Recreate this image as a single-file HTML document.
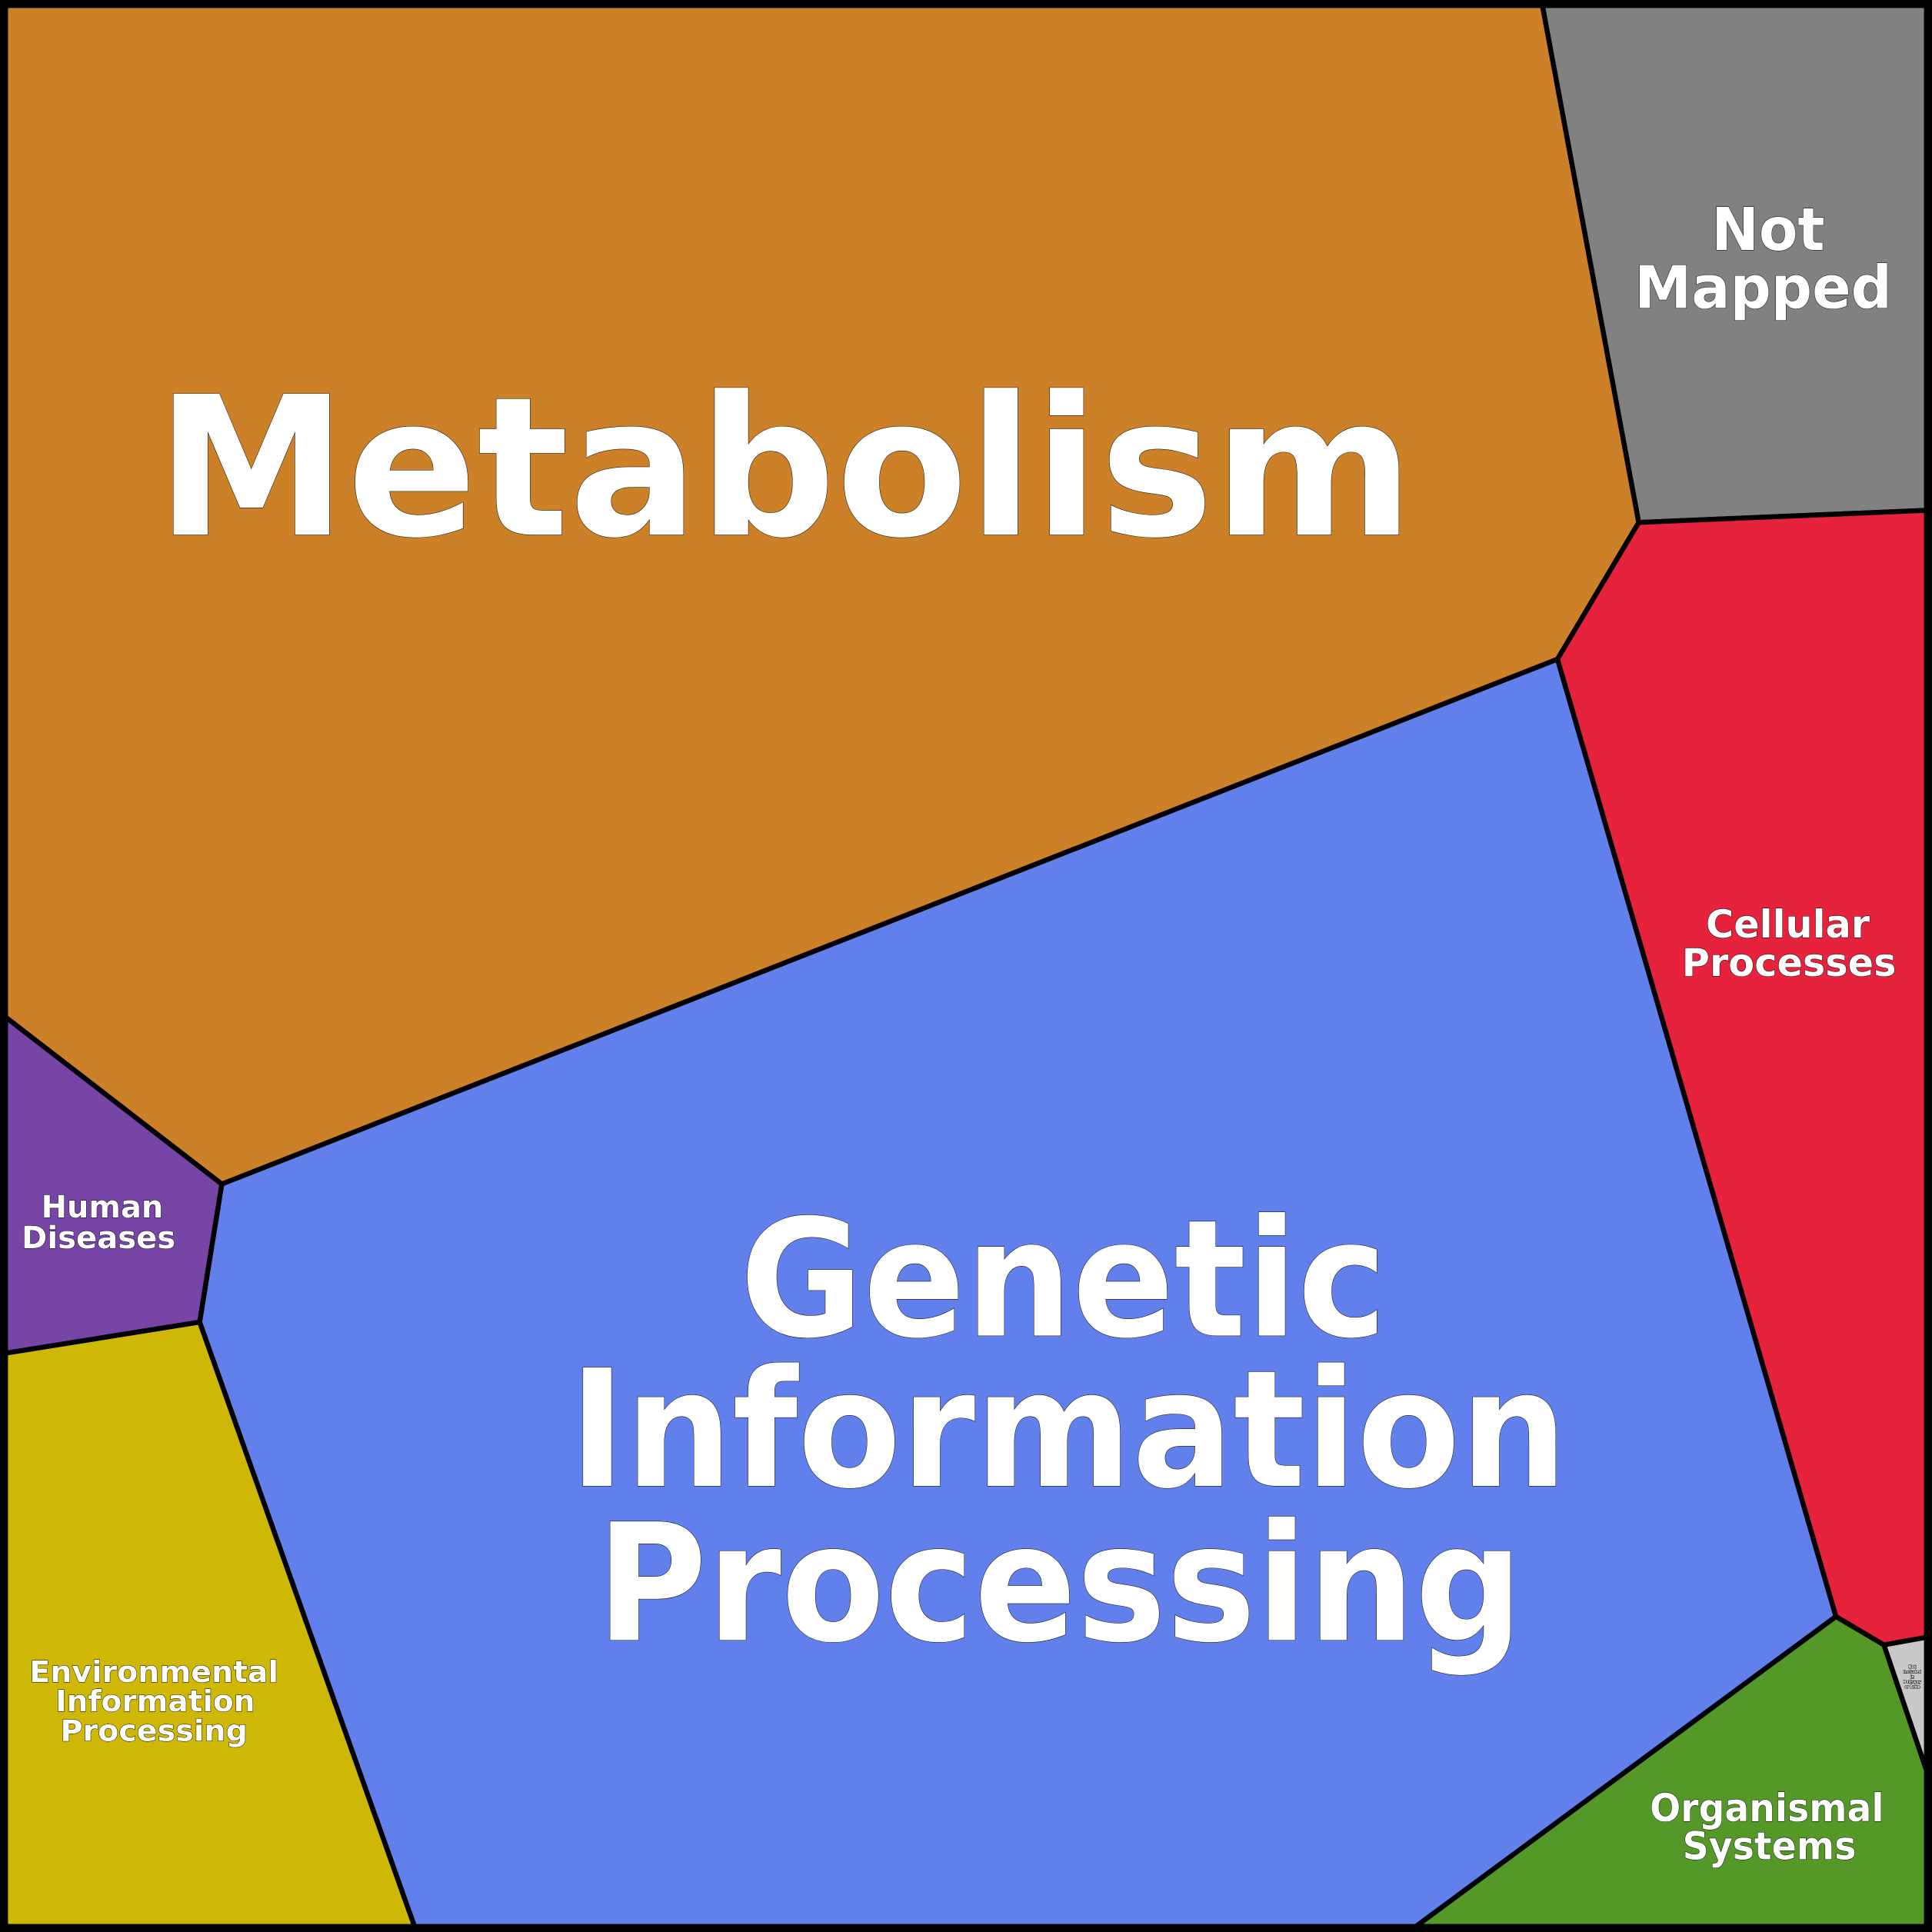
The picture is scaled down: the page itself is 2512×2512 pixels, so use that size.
<!DOCTYPE html>
<html><head><meta charset="utf-8"><style>html,body{margin:0;padding:0;background:#fff}svg{display:block}text{font-family:"DejaVu Sans","Liberation Sans",sans-serif;font-weight:bold;fill:#fff;text-anchor:middle;stroke:#000;stroke-width:0.6;paint-order:stroke}</style></head>
<body>
<svg width="2512" height="2512" viewBox="0 0 1568 1568" xmlns="http://www.w3.org/2000/svg">
<g stroke="#000" stroke-width="4" stroke-linejoin="round">
<polygon points="0,0 1251,0 1330,424 1264,535 180,961 0,822" fill="#cc8128"/>
<polygon points="1251,0 1568,0 1568,414 1330,424" fill="#808180"/>
<polygon points="1330,424 1568,414 1568,1328 1529,1335 1490,1312 1264,535" fill="#e6223d"/>
<polygon points="180,961 1264,535 1490,1312 1143,1568 338,1568 162,1073" fill="#6280eb"/>
<polygon points="0,822 180,961 162,1073 0,1099" fill="#7645a6"/>
<polygon points="0,1099 162,1073 338,1568 0,1568" fill="#cfb805"/>
<polygon points="1143,1568 1490,1312 1529,1335 1568,1450 1568,1568" fill="#549928"/>
<polygon points="1529,1335 1568,1328 1568,1450" fill="#c8c8c8"/>
</g>
<rect x="3" y="3" width="1562" height="1562" fill="none" stroke="#000" stroke-width="7"/>
<text x="637" y="434" font-size="157" textLength="1021" lengthAdjust="spacingAndGlyphs" stroke-width="1">Metabolism</text>
<text x="863" y="1084" font-size="132" textLength="525" lengthAdjust="spacingAndGlyphs" stroke-width="1">Genetic</text>
<text x="867" y="1206" font-size="132" textLength="810" lengthAdjust="spacingAndGlyphs" stroke-width="1">Information</text>
<text x="860" y="1331" font-size="132" textLength="752" lengthAdjust="spacingAndGlyphs" stroke-width="1">Processing</text>
<text x="1435" y="203" font-size="48" textLength="92" lengthAdjust="spacingAndGlyphs">Not</text>
<text x="1431" y="250" font-size="48" textLength="209" lengthAdjust="spacingAndGlyphs">Mapped</text>
<text x="1451" y="761" font-size="31" textLength="133" lengthAdjust="spacingAndGlyphs">Cellular</text>
<text x="1452" y="792" font-size="31" textLength="174" lengthAdjust="spacingAndGlyphs">Processes</text>
<text x="83" y="988" font-size="25" textLength="99" lengthAdjust="spacingAndGlyphs">Human</text>
<text x="80" y="1013" font-size="25" textLength="125" lengthAdjust="spacingAndGlyphs">Diseases</text>
<text x="125" y="1365" font-size="24" textLength="202" lengthAdjust="spacingAndGlyphs">Environmental</text>
<text x="126" y="1389" font-size="24" textLength="162" lengthAdjust="spacingAndGlyphs">Information</text>
<text x="125" y="1413" font-size="24" textLength="152" lengthAdjust="spacingAndGlyphs">Processing</text>
<text x="1434" y="1478" font-size="31" textLength="190" lengthAdjust="spacingAndGlyphs">Organismal</text>
<text x="1436" y="1509" font-size="31" textLength="141" lengthAdjust="spacingAndGlyphs">Systems</text>
<g font-size="3" stroke-width="0.2">
<text x="1552" y="1354">Not</text>
<text x="1552" y="1358">Included</text>
<text x="1552" y="1362">in</text>
<text x="1552" y="1366">Pathway</text>
<text x="1552" y="1370">or Brite</text>
</g>
</svg>
</body></html>
